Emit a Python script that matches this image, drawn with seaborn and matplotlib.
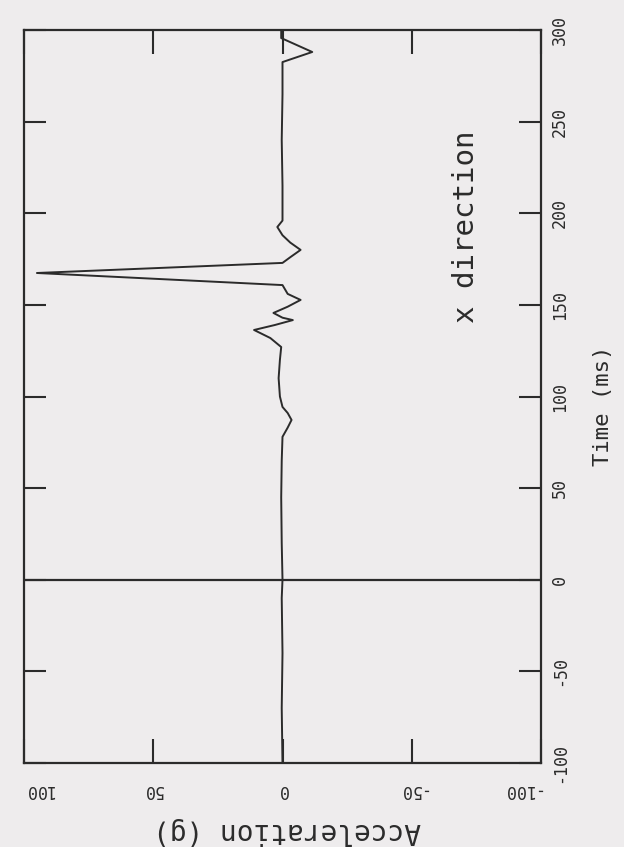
import numpy as np
import pandas as pd
import matplotlib
matplotlib.use('Agg')
import matplotlib.pyplot as plt
import seaborn as sns

# acceleration trace, x direction (time in ms, acceleration in g)
time_ms = [-100, -70, -40, -10, 0, 20, 45, 65, 78, 83, 87.2, 91, 94.3,
           100, 110, 120, 127, 131.9, 136.3, 139, 141.7, 143, 145.6, 149,
           152.7, 156, 160.8, 167.4, 172.9, 176, 180, 184, 188, 192.5, 196,
           215, 240, 265, 282.5, 288, 295.6, 300]
accel_g = [0, 0.3, 0, 0.3, 0, 0.3, 0.5, 0.3, 0, -2, -3.5, -2, 0,
           1, 1.5, 1, 0.5, 4.7, 11, 3, -4, 0, 3.5, -2,
           -7, -2, 0, 95, 0, -3, -7, -3, 0, 2, 0,
           0, 0.3, 0, 0, -11.5, 0.5, 0.5]

acc_ticks = [100, 50, 0, -50, -100]
acc_labels = ['100', '50', '0', '-50', '-100']
time_ticks = [-100, -50, 0, 50, 100, 150, 200, 250, 300]
time_labels = ['-100', '-50', '0', '50', '100', '150', '200', '250', '300']

paper = '#eeeced'
ink = '#2b2b2b'

sns.set_style('white')
plt.rcParams['font.family'] = ['DejaVu Sans Mono', 'DejaVu Sans']
plt.rcParams['text.color'] = ink

df = pd.DataFrame({'time': time_ms, 'accel': accel_g})

fig = plt.figure(figsize=(6.24, 8.47), dpi=100, facecolor=paper)
ax = fig.add_axes([24 / 624, 1 - 763 / 847, 517 / 624, 733 / 847])
ax.set_facecolor(paper)

# the page is turned: time runs up the page, acceleration across it
sns.lineplot(data=df, x='accel', y='time', sort=False, estimator=None,
             color=ink, linewidth=1.4, ax=ax)
ax.axhline(0, color=ink, linewidth=1.6)

ax.set_xlim(100, -100)
ax.set_ylim(-100, 300)

for s in ax.spines.values():
    s.set_color(ink)
    s.set_linewidth(1.6)

ax.set_xticks(acc_ticks)
ax.set_xticklabels(acc_labels, rotation=180, fontsize=12)
ax.set_yticks(time_ticks)
ax.set_yticklabels(time_labels, rotation=90, fontsize=12, va='center')
ax.get_xticklabels()[0].set_ha('left')
ax.get_xticklabels()[-1].set_ha('right')

ax.tick_params(axis='x', direction='in', length=17, width=1.5, color=ink,
               top=True, bottom=True, pad=13, labelcolor=ink)
ax.tick_params(axis='y', direction='in', length=16, width=1.5, color=ink,
               left=True, right=True, labelleft=False, labelright=True,
               pad=7, labelcolor=ink)

ax.set_xlabel('Acceleration (g)', rotation=180, fontsize=20, color=ink)
ax.xaxis.set_label_coords(0.509, -0.074)
ax.yaxis.set_label_position('right')
ax.set_ylabel('Time (ms)', rotation=90, fontsize=16, color=ink)
ax.yaxis.set_label_coords(1.10, 0.487)

ax.text(-71, 192.5, 'x direction', rotation=90, ha='center', va='center',
        fontsize=21, color=ink)

fig.savefig('out.png', dpi=100, facecolor=paper)
